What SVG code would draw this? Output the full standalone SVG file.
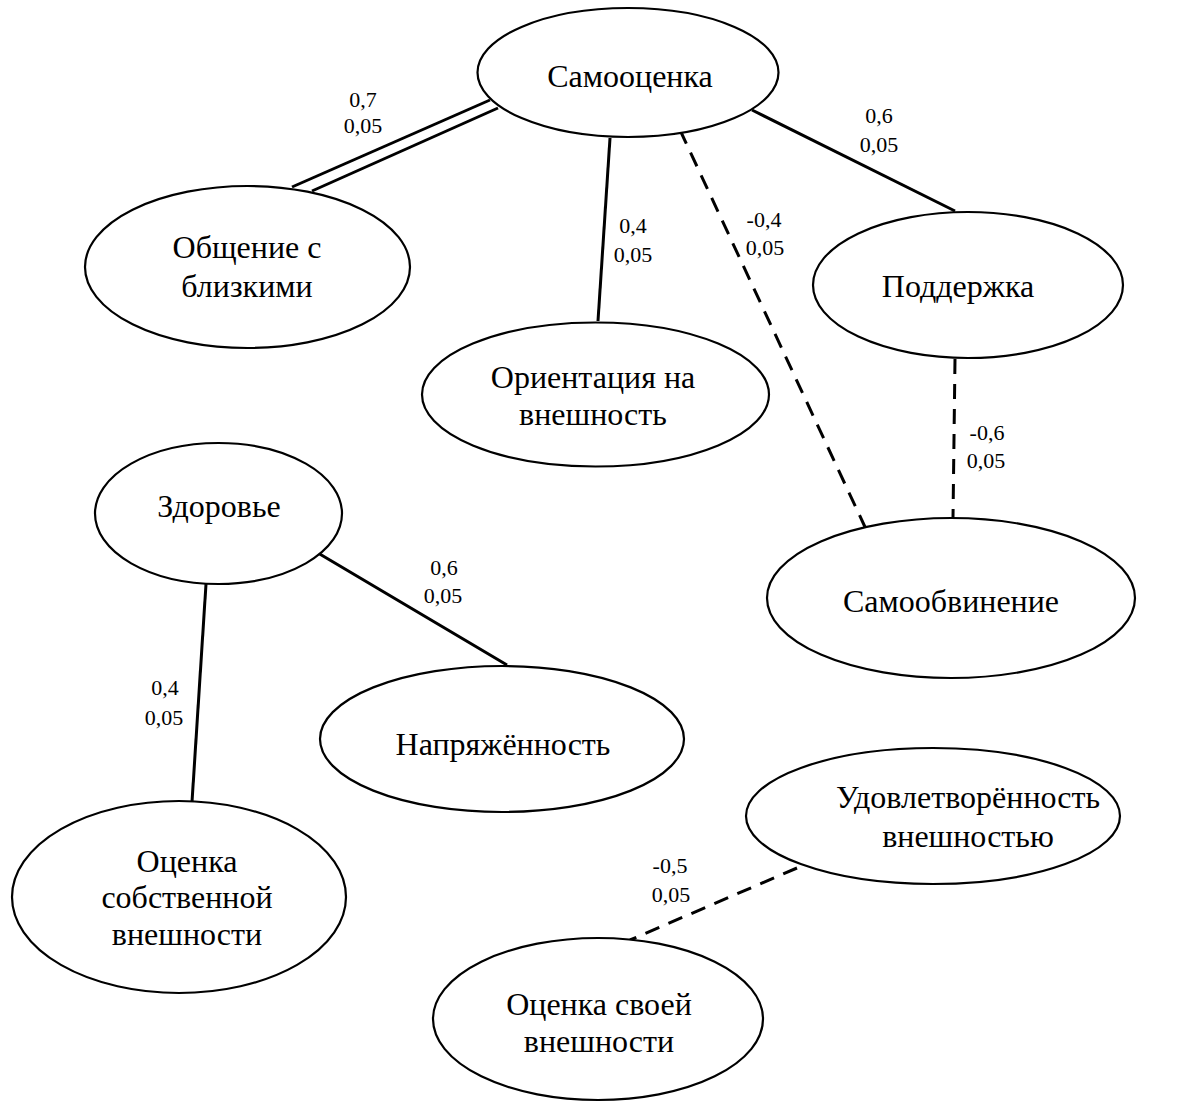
<svg xmlns="http://www.w3.org/2000/svg" width="1197" height="1103" viewBox="0 0 1197 1103">
  <style>
    text { font-family: 'Liberation Serif', Tinos, 'DejaVu Serif', serif; fill: #000; text-anchor: middle; }
    .node ellipse { fill: #fff; stroke: #000; stroke-width: 2.2; }
    .node text { font-size: 32px; }
    .edge { stroke: #000; stroke-width: 3; fill: none; }
    .dash { stroke-dasharray: 15 10; }
    .lbl { font-size: 22px; }
  </style>
  <rect width="1197" height="1103" fill="#fff"/>

  <!-- connectors and their coefficient labels -->
  <g id="connectors">
    <!-- double line: Самооценка – Общение с близкими -->
    <line class="edge" x1="292" y1="187" x2="490" y2="100"/>
    <line class="edge" x1="312" y1="191" x2="498" y2="108"/>
    <line class="edge" x1="610" y1="138" x2="598" y2="321"/>
    <line class="edge dash" x1="680" y1="130" x2="865" y2="527"/>
    <line class="edge" x1="752" y1="110" x2="955" y2="211"/>
    <line class="edge dash" x1="955" y1="359" x2="953" y2="518"/>
    <line class="edge" x1="318" y1="553" x2="507" y2="665"/>
    <line class="edge" x1="206" y1="584" x2="192" y2="802"/>
    <line class="edge dash" x1="797" y1="868" x2="630" y2="940"/>

    <text class="lbl" x="363" y="107">0,7</text>
    <text class="lbl" x="363" y="133">0,05</text>
    <text class="lbl" x="633" y="233">0,4</text>
    <text class="lbl" x="633" y="262">0,05</text>
    <text class="lbl" x="764" y="227">-0,4</text>
    <text class="lbl" x="765" y="255">0,05</text>
    <text class="lbl" x="879" y="123">0,6</text>
    <text class="lbl" x="879" y="152">0,05</text>
    <text class="lbl" x="987" y="440">-0,6</text>
    <text class="lbl" x="986" y="468">0,05</text>
    <text class="lbl" x="444" y="575">0,6</text>
    <text class="lbl" x="443" y="603">0,05</text>
    <text class="lbl" x="165" y="695">0,4</text>
    <text class="lbl" x="164" y="725">0,05</text>
    <text class="lbl" x="670" y="873">-0,5</text>
    <text class="lbl" x="671" y="902">0,05</text>
  </g>

  <!-- nodes -->
  <g id="samoocenka" class="node">
    <ellipse cx="628" cy="72.5" rx="150.5" ry="64.5"/>
    <text x="630" y="87">Самооценка</text>
  </g>
  <g id="obshchenie" class="node">
    <ellipse cx="247.5" cy="267" rx="162.5" ry="81"/>
    <text x="247" y="258">Общение с</text>
    <text x="247" y="297">близкими</text>
  </g>
  <g id="orientaciya" class="node">
    <ellipse cx="595.5" cy="394.5" rx="173.5" ry="72"/>
    <text x="593" y="388">Ориентация на</text>
    <text x="593" y="425">внешность</text>
  </g>
  <g id="podderzhka" class="node">
    <ellipse cx="968" cy="285" rx="155" ry="73"/>
    <text x="958" y="297">Поддержка</text>
  </g>
  <g id="samoobvinenie" class="node">
    <ellipse cx="951" cy="598" rx="184" ry="80"/>
    <text x="951" y="612">Самообвинение</text>
  </g>
  <g id="zdorovye" class="node">
    <ellipse cx="218.5" cy="513.5" rx="123.5" ry="70.5"/>
    <text x="219" y="517">Здоровье</text>
  </g>
  <g id="napryazhennost" class="node">
    <ellipse cx="502" cy="739" rx="182" ry="73"/>
    <text x="503" y="755">Напряжённость</text>
  </g>
  <g id="udovletvorennost" class="node">
    <ellipse cx="933" cy="816" rx="187" ry="68"/>
    <text x="968" y="808">Удовлетворённость</text>
    <text x="968" y="847">внешностью</text>
  </g>
  <g id="ocenka-sobstvennoy" class="node">
    <ellipse cx="179" cy="897" rx="167" ry="96"/>
    <text x="187" y="872">Оценка</text>
    <text x="187" y="908">собственной</text>
    <text x="187" y="945">внешности</text>
  </g>
  <g id="ocenka-svoey" class="node">
    <ellipse cx="598" cy="1019" rx="165" ry="81"/>
    <text x="599" y="1015">Оценка своей</text>
    <text x="599" y="1052">внешности</text>
  </g>
</svg>
